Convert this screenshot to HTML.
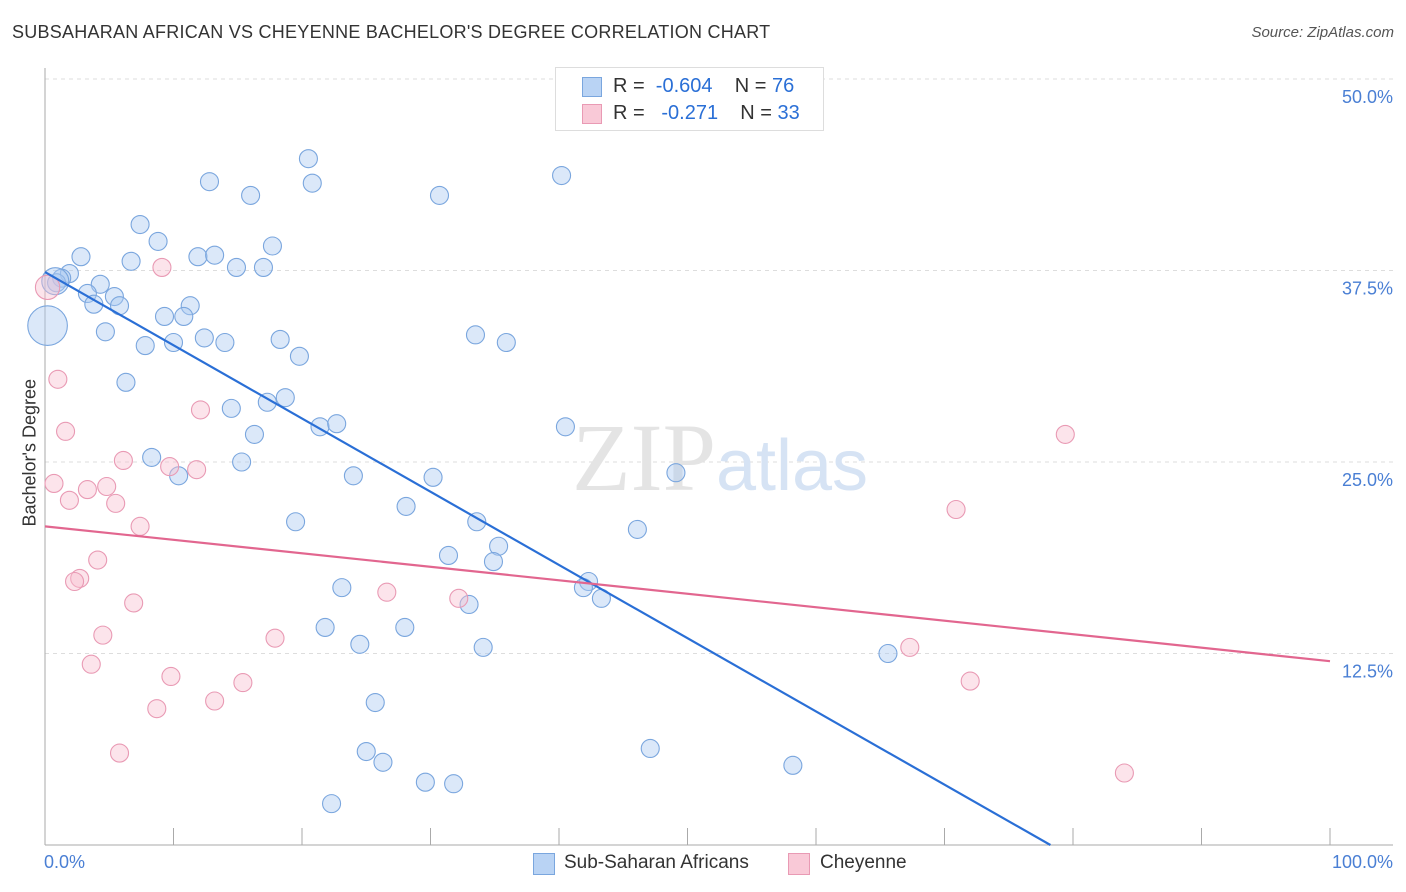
<!DOCTYPE html>
<html><head><meta charset="utf-8"><style>
body{margin:0;background:#fff;font-family:"Liberation Sans",sans-serif;}
#wrap{position:relative;width:1406px;height:892px;overflow:hidden}
.t{position:absolute;white-space:nowrap}
</style></head><body>
<div id="wrap">
<div class="t" style="left:12px;top:22px;font-size:18px;color:#333;letter-spacing:0.25px">SUBSAHARAN AFRICAN VS CHEYENNE BACHELOR'S DEGREE CORRELATION CHART</div>
<div class="t" style="right:12px;top:24px;font-size:15px;color:#555;font-style:italic">Source: ZipAtlas.com</div>
<svg id="svg" width="1406" height="892" style="position:absolute;left:0;top:0"></svg>
</div>
<script>
const blueX=[20.5,12.8,20.8,40.2,16.0,30.7,7.4,8.8,17.7,2.8,11.9,13.2,6.7,14.9,17.0,1.9,1.3,0.9,4.3,3.3,5.4,3.8,5.8,11.3,9.3,10.8,4.7,12.4,14.0,10.0,7.8,18.3,33.5,35.9,19.8,6.3,18.7,17.3,14.5,21.4,22.7,40.5,16.3,8.3,15.3,10.4,24.0,30.2,49.1,28.1,19.5,33.6,46.1,35.3,31.4,34.9,42.3,41.9,23.1,43.3,33.0,21.8,28.0,24.5,34.1,65.6,25.7,25.0,47.1,26.3,58.2,29.6,31.8,22.3,0.2,0.8];
const blueY=[44.8,43.3,43.2,43.7,42.4,42.4,40.5,39.4,39.1,38.4,38.4,38.5,38.1,37.7,37.7,37.3,37.0,36.7,36.6,36.0,35.8,35.3,35.2,35.2,34.5,34.5,33.5,33.1,32.8,32.8,32.6,33.0,33.3,32.8,31.9,30.2,29.2,28.9,28.5,27.3,27.5,27.3,26.8,25.3,25.0,24.1,24.1,24.0,24.3,22.1,21.1,21.1,20.6,19.5,18.9,18.5,17.2,16.8,16.8,16.1,15.7,14.2,14.2,13.1,12.9,12.5,9.3,6.1,6.3,5.4,5.2,4.1,4.0,2.7,33.9,36.8];
const blueSize=[1,1,1,1,1,1,1,1,1,1,1,1,1,1,1,1,1,1,1,1,1,1,1,1,1,1,1,1,1,1,1,1,1,1,1,1,1,1,1,1,1,1,1,1,1,1,1,1,1,1,1,1,1,1,1,1,1,1,1,1,1,1,1,1,1,1,1,1,1,1,1,1,1,1,2.2,1.5];
const pinkX=[9.1,1.0,12.1,1.6,6.1,9.7,11.8,0.7,3.3,4.8,1.9,5.5,7.4,4.1,2.7,2.3,6.9,26.6,32.2,4.5,17.9,3.6,9.8,15.4,13.2,8.7,5.8,79.4,70.9,67.3,72.0,84.0,0.2];
const pinkY=[37.7,30.4,28.4,27.0,25.1,24.7,24.5,23.6,23.2,23.4,22.5,22.3,20.8,18.6,17.4,17.2,15.8,16.5,16.1,13.7,13.5,11.8,11.0,10.6,9.4,8.9,6.0,26.8,21.9,12.9,10.7,4.7,36.4];
const pinkSize=[1,1,1,1,1,1,1,1,1,1,1,1,1,1,1,1,1,1,1,1,1,1,1,1,1,1,1,1,1,1,1,1,1.35];
const blueTrend=[37.4,-0.478];
const pinkTrend=[20.8,-0.088];
const yTicks=[12.5,25.0,37.5,50.0];
const yTickLabels=["12.5%","25.0%","37.5%","50.0%"];
const xTicks=[0,10,20,30,40,50,60,70,80,90,100];

const X0=45,X1=1330,Y0=845,YS=15.32;
const sx=v=>X0+(X1-X0)*v/100, sy=v=>Y0-v*YS;
const svg=document.getElementById('svg');const NS='http://www.w3.org/2000/svg';
function mk(tag,a){const e=document.createElementNS(NS,tag);for(const k in a)e.setAttribute(k,a[k]);svg.appendChild(e);return e;}
yTicks.forEach((t,i)=>{
 const g=mk('line',{x1:45,x2:1393,y1:sy(t),y2:sy(t),stroke:'#ddd','stroke-dasharray':'4,4'});
 
 
 const tx=mk('text',{x:1393,y:sy(t)+24,'text-anchor':'end','font-size':18,fill:'#4a7fd4','font-family':'Liberation Sans'});
 tx.textContent=yTickLabels[i];
 
 
});
const ya=mk('line',{x1:45,x2:45,y1:68,y2:845,stroke:'#aaa'});


const xa=mk('line',{x1:45,x2:1393,y1:845,y2:845,stroke:'#aaa'});


xTicks.forEach(t=>{const l=mk('line',{x1:sx(t),x2:sx(t),y1:828,y2:845,stroke:'#aaa'});
 
 });
const wm=mk('text',{x:720,y:490,'text-anchor':'middle','font-size':96,'font-family':'Liberation Serif',fill:'#e4e4e4'});
wm.innerHTML='ZIP<tspan font-family="Liberation Sans" font-size="72" fill="#d6e3f4">atlas</tspan>';


blueX.forEach((x,i)=>{const c=mk('circle',{cx:sx(x),cy:sy(blueY[i]),r:9*blueSize[i],fill:'rgba(170,200,240,0.42)',stroke:'#7aa6de','stroke-width':1.1});
 
 });
pinkX.forEach((x,i)=>{const c=mk('circle',{cx:sx(x),cy:sy(pinkY[i]),r:9*pinkSize[i],fill:'rgba(248,190,208,0.42)',stroke:'#e99ab4','stroke-width':1.1});
 
 });
const bEnd=-blueTrend[0]/blueTrend[1];
const bl=mk('line',{x1:sx(0),y1:sy(blueTrend[0]),x2:sx(bEnd),y2:sy(0),stroke:'#2a6fd6','stroke-width':2.2});


const pl=mk('line',{x1:sx(0),y1:sy(pinkTrend[0]),x2:sx(100),y2:sy(pinkTrend[0]+pinkTrend[1]*100),stroke:'#e2668f','stroke-width':2.2});


</script>
<div class="t" style="left:555px;top:67px;width:267px;height:62px;border:1px solid #ddd;background:#fff">
 <div style="position:absolute;left:26px;top:9px;width:18px;height:18px;background:#b9d3f4;border:1px solid #7aa6de"></div>
 <div style="position:absolute;left:26px;top:36px;width:18px;height:18px;background:#f9c9d7;border:1px solid #e99ab4"></div>
 <div class="t" style="left:57px;top:7px;font-size:20px;color:#333">R = <span style="color:#2a6fd6">&nbsp;-0.604</span>&nbsp;&nbsp;&nbsp; N = <span style="color:#2a6fd6">76</span></div>
 <div class="t" style="left:57px;top:34px;font-size:20px;color:#333">R = <span style="color:#2a6fd6">&nbsp;&nbsp;-0.271</span>&nbsp;&nbsp;&nbsp; N = <span style="color:#2a6fd6">33</span></div>
</div>
<div class="t" style="left:44px;top:852px;font-size:18px;color:#4a7fd4">0.0%</div>
<div class="t" style="right:13px;top:852px;font-size:18px;color:#4a7fd4">100.0%</div>
<div class="t" style="left:-40px;top:446px;font-size:18px;color:#333;transform:rotate(-90deg);width:140px;text-align:center">Bachelor's Degree</div>
<div class="t" style="left:533px;top:853px;width:20px;height:20px;background:#b9d3f4;border:1px solid #7aa6de"></div>
<div class="t" style="left:564px;top:852px;font-size:19px;color:#333">Sub-Saharan Africans</div>
<div class="t" style="left:788px;top:853px;width:20px;height:20px;background:#f9c9d7;border:1px solid #e99ab4"></div>
<div class="t" style="left:820px;top:852px;font-size:19px;color:#333">Cheyenne</div>
</body></html>
